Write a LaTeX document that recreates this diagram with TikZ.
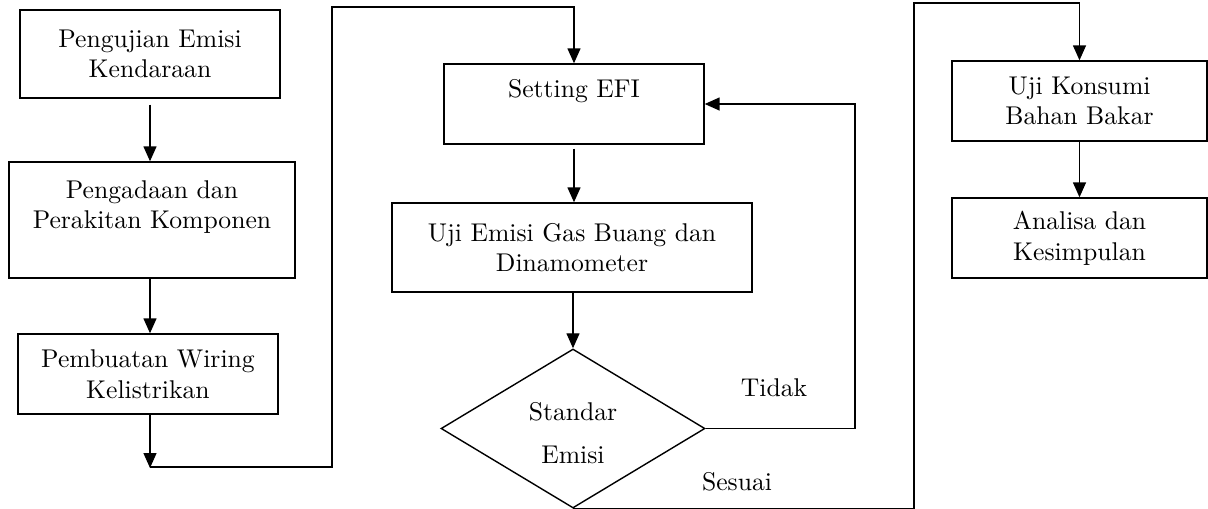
\documentclass[tikz,border=0pt]{standalone}
\usepackage{fontspec}
\setmainfont{lmroman10-regular.otf}
\usetikzlibrary{shapes.geometric,arrows.meta}
\begin{document}
\begin{tikzpicture}[x=0.02cm, y=-0.02cm, line width=0.8pt, line join=miter,
	font=\fontsize{14.6}{17.5}\selectfont,
	kotak/.style={draw, rectangle, align=center, inner sep=0pt},
	belah/.style={draw, diamond, align=center, inner sep=0pt, minimum width=5.28cm, minimum height=3.12cm},
	panah/.style={-{Triangle[length=0.3cm,width=0.26cm]}}]
	\useasboundingbox (0,0) rectangle (1208,508);
	% kolom kiri
	\node[kotak, minimum width=5.2cm, minimum height=1.76cm] (uji1) at (150,54) {Pengujian Emisi\\Kendaraan};
	\node[kotak, minimum width=5.72cm, minimum height=2.32cm] (adakan) at (152,220) {Pengadaan dan\\Perakitan Komponen\\~};
	\node[kotak, minimum width=5.2cm, minimum height=1.6cm] (wiring) at (148,374) {Pembuatan Wiring\\Kelistrikan};
	% kolom tengah
	\node[kotak, minimum width=5.2cm, minimum height=1.6cm] (efi) at (574,104) {Setting EFI\\~};
	\node[kotak, minimum width=7.2cm, minimum height=1.78cm] (gasbuang) at (572,247.5) {Uji Emisi Gas Buang dan\\Dinamometer};
	\node[belah] (standar) at (573,428.5) {\\[-2pt]Standar\\[7pt]Emisi};
	% kolom kanan
	\node[kotak, minimum width=5.1cm, minimum height=1.6cm] (konsumsi) at (1079.5,101) {Uji Konsumi\\Bahan Bakar};
	\node[kotak, minimum width=5.1cm, minimum height=1.6cm] (analisa) at (1079.5,238) {Analisa dan\\Kesimpulan};
	% label
	\node (tidak) at (774,388) {Tidak};
	\node (sesuai) at (737,482) {Sesuai};
	% titik belok
	\coordinate (ujung) at (150,468);
	\coordinate (b1) at (332,467);
	\coordinate (b2) at (332,7);
	\coordinate (balik) at (855,104);
	\coordinate (s1) at (914,3);
	% panah
	\draw[panah, shorten <=0.12cm] (ujung |- uji1.south) -- (ujung |- adakan.north);
	\draw[panah] (ujung |- adakan.south) -- (ujung |- wiring.north);
	\draw[panah] (ujung |- wiring.south) -- (ujung);
	\draw[panah] (ujung |- b1) -- (b1) -- (b2) -| (efi.north);
	\draw[panah, shorten <=0.08cm] (efi.south) -- (efi.south |- gasbuang.north);
	\draw[panah] (standar.north |- gasbuang.south) -- (standar.north);
	\draw[panah] (standar.east) -| (balik) -- (efi.east);
	\draw[panah] (standar.south) -| (s1) -| (konsumsi.north);
	\draw[panah] (konsumsi) -- (analisa);
\end{tikzpicture}
\end{document}
